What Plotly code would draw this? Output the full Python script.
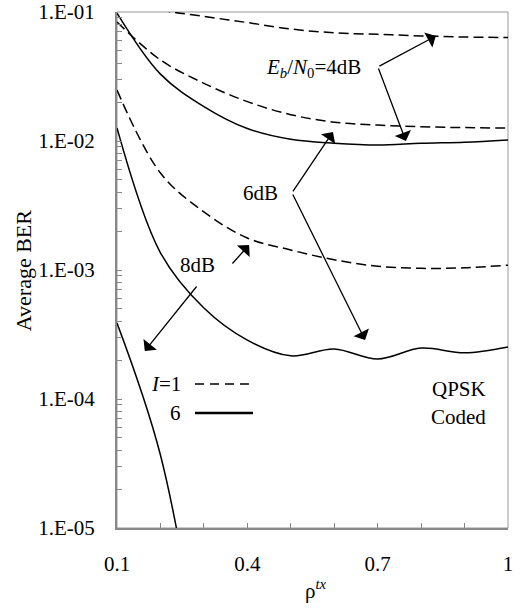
import plotly.graph_objects as go

# ---------------- data ----------------
rho = [0.1, 0.2, 0.3, 0.4, 0.5, 0.6, 0.7, 0.8, 0.9, 1.0]
ber_4dB_I1 = [0.13, 0.104, 0.0925, 0.0828, 0.0738, 0.069, 0.0671, 0.0653, 0.064, 0.0634]
ber_4dB_I6 = [0.098, 0.033, 0.0185, 0.0125, 0.0103, 0.0096, 0.0093, 0.0096, 0.0098, 0.0102]
ber_6dB_I1 = [0.0837, 0.0425, 0.028, 0.0202, 0.016, 0.014, 0.0133, 0.0129, 0.0127, 0.0126]
ber_6dB_I6 = [0.0126, 0.00136, 0.000507, 0.000286, 0.000216, 0.000244, 0.000204, 0.000248, 0.000228, 0.000253]
ber_8dB_I1 = [0.0248, 0.00565, 0.00282, 0.00177, 0.00143, 0.0012, 0.00107, 0.00103, 0.00104, 0.00109]
rho_8dB_I6 = [0.1, 0.2, 0.3]
ber_8dB_I6 = [0.000388, 3.68e-5, 6e-7]

x_tickvals = [0.1, 0.2, 0.3, 0.4, 0.5, 0.6, 0.7, 0.8, 0.9, 1.0]
x_ticktext = ["0.1", "", "", "0.4", "", "", "0.7", "", "", "1"]
y_major = [1e-5, 1e-4, 1e-3, 1e-2, 1e-1]
y_major_text = ["1.E-05", "1.E-04", "1.E-03", "1.E-02", "1.E-01"]

FONT = "Liberation Serif"
DASH = "10px,5px"

fig = go.Figure()

def add(x, y, dashed):
    fig.add_trace(go.Scatter(
        x=x, y=y, mode="lines", showlegend=False, hoverinfo="skip",
        line=dict(color="black", width=1.5, shape="spline",
                  dash=DASH if dashed else "solid")))

add(rho, ber_4dB_I1, True)
add(rho, ber_4dB_I6, False)
add(rho, ber_6dB_I1, True)
add(rho, ber_6dB_I6, False)
add(rho, ber_8dB_I1, True)
add(rho_8dB_I6, ber_8dB_I6, False)

# legend samples
fig.add_trace(go.Scatter(x=[0.2795, 0.413], y=[10 ** -3.884] * 2, mode="lines",
                         showlegend=False, hoverinfo="skip",
                         line=dict(color="black", width=1.5, dash="9px,6px")))
fig.add_trace(go.Scatter(x=[0.2795, 0.413], y=[10 ** -4.109] * 2, mode="lines",
                         showlegend=False, hoverinfo="skip",
                         line=dict(color="black", width=2.5)))

# y ticks incl. minor
y_tickvals, y_ticktext = [], []
for i, d in enumerate(y_major):
    y_tickvals.append(d)
    y_ticktext.append(y_major_text[i])
    if i < len(y_major) - 1:
        for m in range(2, 10):
            y_tickvals.append(d * m)
            y_ticktext.append("")

fig.update_layout(
    width=522, height=612,
    margin=dict(l=117, r=14, t=12, b=84, autoexpand=False),
    plot_bgcolor="white", paper_bgcolor="white",
    font=dict(family=FONT, size=21, color="black"),
    xaxis=dict(range=[0.1, 1.0], tickvals=x_tickvals, ticktext=x_ticktext,
               ticks="inside", ticklen=5, tickcolor="#888", tickwidth=1,
               showline=True, linecolor="#888", linewidth=2, showgrid=False,
               zeroline=False, ticklabelstandoff=16, automargin=False),
    yaxis=dict(type="log", range=[-5, -1], tickvals=y_tickvals, ticktext=y_ticktext,
               ticks="inside", ticklen=5, tickcolor="#888", tickwidth=1,
               showline=True, linecolor="#888", linewidth=2, showgrid=False,
               zeroline=False, ticklabelstandoff=16, automargin=False),
)

# frame (top / right)
fig.add_shape(type="rect", xref="paper", yref="paper", x0=0, x1=1, y0=0, y1=1,
              line=dict(color="#999", width=1), layer="below")

# axis titles
fig.add_annotation(xref="paper", yref="paper", x=0.509, y=-0.12,
                   text="ρ<sup><i>tx</i></sup>", showarrow=False,
                   xanchor="center", yanchor="middle", font=dict(size=21))
fig.add_annotation(xref="paper", yref="paper", x=-0.24, y=0.498,
                   text="Average BER", textangle=-90, showarrow=False,
                   xanchor="center", yanchor="middle", font=dict(size=22))

# text labels
def label(x, logy, text, xanchor="center"):
    fig.add_annotation(x=x, y=logy, xref="x", yref="y", text=text, showarrow=False,
                       xanchor=xanchor, yanchor="middle", font=dict(size=21))

label(0.553, -1.434, "<i>E</i><sub><i>b</i></sub>/<i>N</i><sub>0</sub>=4dB")
label(0.431, -2.403, "6dB")
label(0.285, -2.961, "8dB")
label(0.252, -3.884, "<i>I</i>=1", xanchor="right")
label(0.252, -4.109, "6", xanchor="right")
label(0.887, -3.922, "QPSK")
label(0.887, -4.140, "Coded")

# arrows: tip (x, log y) and tail pixel offset
def arrow(x, logy, ax, ay):
    fig.add_annotation(x=x, y=logy, xref="x", yref="y", text="", showarrow=True,
                       ax=ax, ay=ay, arrowhead=1, arrowsize=2.2, arrowwidth=1.3,
                       arrowcolor="black")

arrow(0.834, -1.186, -58, 31)
arrow(0.765, -2.0, -28, -74)
arrow(0.597, -1.930, -41, 61)
arrow(0.671, -3.543, -73, -147)
arrow(0.404, -2.806, -18, 20)
arrow(0.164, -3.628, 53, -66)

fig.write_html("out.html", config={"displayModeBar": False},
               post_script="document.body.style.margin='0';")
